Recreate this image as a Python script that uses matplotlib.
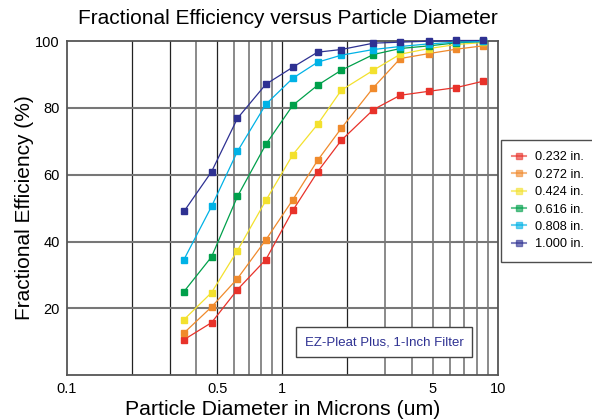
import numpy as np
import matplotlib as mpl
mpl.use('Agg')
import matplotlib.pyplot as plt

plt.rcParams['font.family'] = ['Liberation Sans', 'DejaVu Sans']

# particle diameter channels (um)
diameter = [0.35, 0.47, 0.62, 0.84, 1.12, 1.46, 1.88, 2.65, 3.53, 4.81, 6.43, 8.55]

labels = ["0.232 in.", "0.272 in.", "0.424 in.", "0.616 in.", "0.808 in.", "1.000 in."]
colors = ["#e8322a", "#f08a2c", "#f3e12e", "#00a04b", "#00b2e6", "#2e3192"]

eff_0232 = [10.6, 15.7, 25.6, 34.6, 49.3, 60.9, 70.3, 79.5, 83.8, 85.0, 86.1, 88.0]
eff_0272 = [12.6, 20.4, 28.9, 40.5, 52.5, 64.3, 73.9, 86.1, 94.8, 96.3, 97.6, 98.6]
eff_0424 = [16.6, 24.7, 37.3, 52.3, 66.0, 75.1, 85.3, 91.3, 96.1, 97.8, 99.0, 99.6]
eff_0616 = [25.0, 35.4, 53.5, 69.1, 80.8, 86.8, 91.3, 96.0, 97.8, 98.6, 99.5, 99.9]
eff_0808 = [34.6, 50.5, 67.0, 81.1, 88.9, 93.7, 95.8, 97.5, 98.4, 99.2, 99.7, 99.9]
eff_1000 = [49.0, 60.9, 76.9, 87.1, 92.2, 96.7, 97.5, 99.4, 99.7, 100.0, 100.2, 100.2]

series = [eff_0232, eff_0272, eff_0424, eff_0616, eff_0808, eff_1000]

fig = plt.figure(figsize=(5.92, 4.2), dpi=100)
ax = fig.add_axes([0.1127, 0.107, 0.728, 0.795])

ax.set_xscale("log")
ax.set_xlim(0.1, 10)
ax.set_ylim(0, 100)

# grid
dark_x = [0.2, 0.3, 0.5, 1, 2]
for v in [0.2, 0.3, 0.4, 0.5, 0.6, 0.7, 0.8, 0.9, 1, 2, 3, 4, 5, 6, 7, 8, 9]:
    if v in dark_x:
        ax.axvline(v, color="#222222", lw=0.9, zorder=1)
    else:
        ax.axvline(v, color="#777777", lw=1.2, zorder=1)
for v in [20, 40, 60, 80]:
    ax.axhline(v, color="#777777", lw=1.5, zorder=1)

handles = []
for lab, c, ys in zip(labels, colors, series):
    ax.plot(diameter, ys, color=c, lw=0.9, zorder=3, clip_on=False)
    ax.plot(diameter, ys, "s", color=c, ms=4.3, zorder=4, clip_on=False)
    h, = ax.plot([], [], color=c, lw=1.5, alpha=0.6, marker="s", ms=4.3,
                 markerfacecolor=c, markeredgecolor=c, label=lab)
    handles.append(h)

ax.set_xticks([0.1, 0.5, 1, 5, 10])
ax.set_xticklabels(["0.1", "0.5", "1", "5", "10"])
ax.xaxis.set_minor_locator(mpl.ticker.NullLocator())
ax.set_yticks([20, 40, 60, 80, 100])
ax.tick_params(length=0, labelsize=10.5, pad=5)

for s in ax.spines.values():
    s.set_color("#555555")
    s.set_linewidth(1.3)

ax.set_title("Fractional Efficiency versus Particle Diameter", fontsize=15, pad=12, x=0.512)
ax.set_xlabel("Particle Diameter in Microns (um)", fontsize=15.3, labelpad=3)
ax.set_ylabel("Fractional Efficiency (%)", fontsize=15, labelpad=1)

leg = ax.legend(handles=handles, loc="upper left", bbox_to_anchor=(1.007, 0.704),
                frameon=True, fancybox=False, fontsize=9.2, handlelength=1.1,
                handletextpad=0.7, borderpad=0.9, labelspacing=0.42,
                borderaxespad=0)
leg.get_frame().set_edgecolor("#222222")
leg.get_frame().set_linewidth(1.0)

ax.text(0.736, 0.099, "EZ-Pleat Plus, 1-Inch Filter", transform=ax.transAxes,
        ha="center", va="center", fontsize=9.5, color="#2e3192", zorder=6,
        bbox=dict(boxstyle="square,pad=0.65", facecolor="white",
                  edgecolor="#444444", linewidth=1.0))

fig.savefig("out.png", dpi=100)
